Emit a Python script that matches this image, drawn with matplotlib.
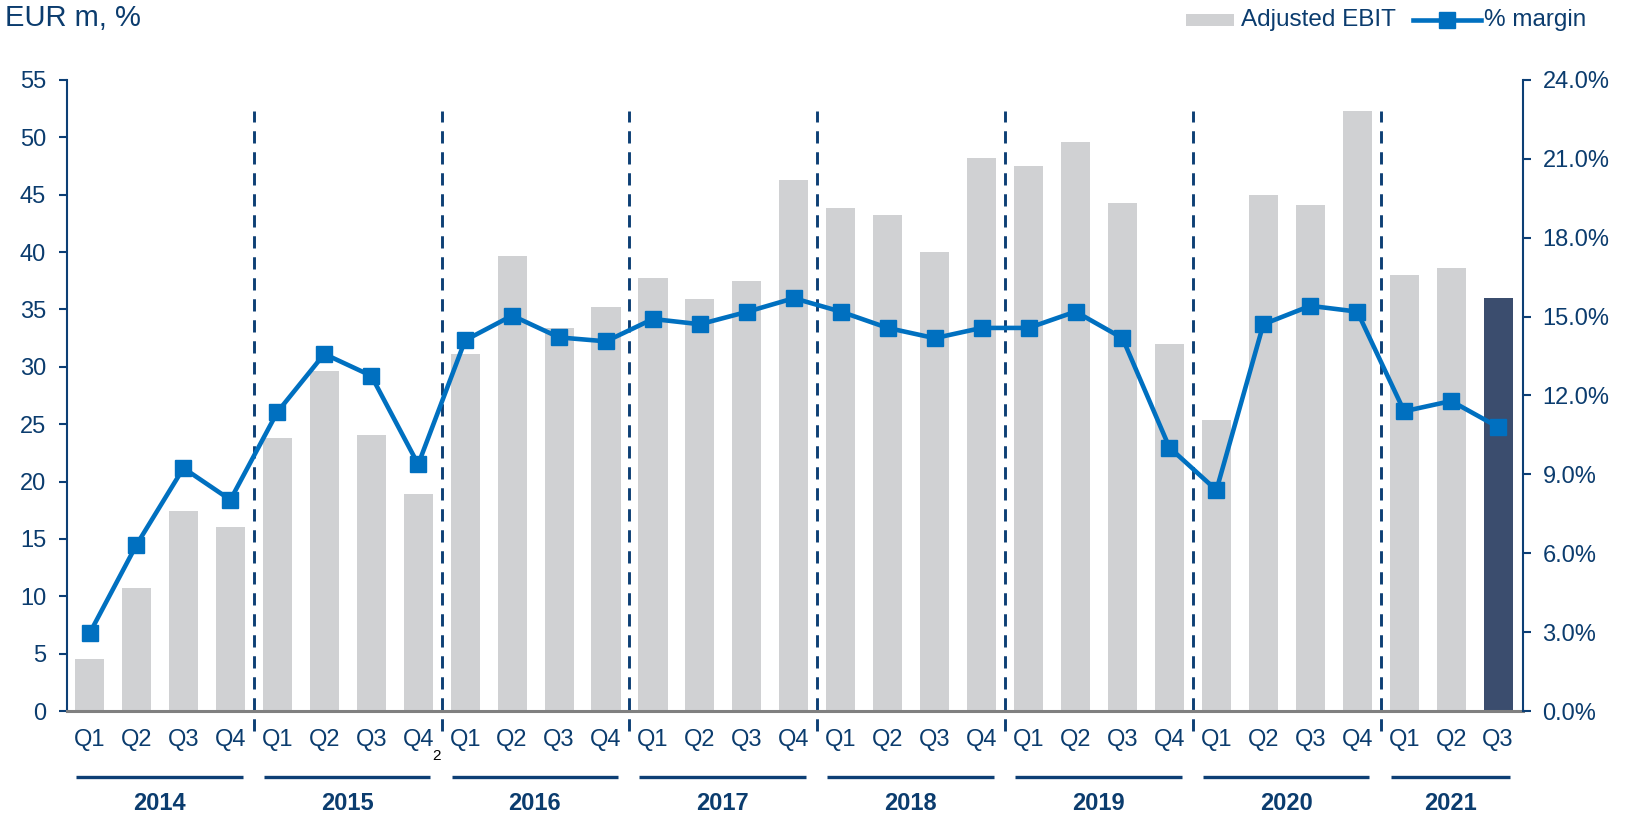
import matplotlib
matplotlib.use("Agg")
import matplotlib.pyplot as plt
import matplotlib.transforms as mtransforms
from matplotlib.patches import Rectangle
from matplotlib.lines import Line2D
from matplotlib.ticker import FuncFormatter

plt.rcParams['font.family'] = ['Liberation Sans', 'DejaVu Sans']

years = ["2014", "2015", "2016", "2017", "2018", "2019", "2020", "2021"]
quarters = ["Q1", "Q2", "Q3", "Q4"]
quarter_labels = quarters * 7 + ["Q1", "Q2", "Q3"]

adjusted_ebit = [4.5, 10.7, 17.4, 16.0,
                 23.8, 29.6, 24.1, 18.9,
                 31.1, 39.7, 33.4, 35.2,
                 37.7, 35.9, 37.5, 46.3,
                 43.8, 43.2, 40.0, 48.2,
                 47.5, 49.6, 44.3, 32.0,
                 25.4, 45.0, 44.1, 52.3,
                 38.0, 38.6, 36.0]

margin_pct = [2.95, 6.32, 9.24, 8.03,
              11.37, 13.58, 12.75, 9.38,
              14.10, 15.04, 14.21, 14.06,
              14.91, 14.71, 15.18, 15.70,
              15.19, 14.57, 14.18, 14.57,
              14.57, 15.19, 14.18, 10.02,
              8.40, 14.71, 15.41, 15.19,
              11.40, 11.79, 10.80]

TEXT = "#0b3c6e"
SPINE = "#0d3f75"
GRAY = "#d0d1d3"
DARK = "#3b4d6e"
LINE = "#0070c0"
FS = 17

W, H = 1635, 813
fig = plt.figure(figsize=(W / 100, H / 100), dpi=100)
ax = fig.add_axes([67 / W, 1 - 711 / H, (1523 - 67) / W, (711 - 80) / H])

n = len(adjusted_ebit)
x = list(range(n))
colors = [GRAY] * (n - 1) + [DARK]
ax.bar(x, adjusted_ebit, width=0.62, color=colors, zorder=2)

ax.set_xlim(-0.48, n - 1 + 0.53)
ax.set_ylim(0, 55)
ax.set_yticks(range(0, 56, 5))
ax.set_xticks(x)
ax.set_xticklabels(quarter_labels)
ax.tick_params(axis='x', length=0, pad=13, labelsize=FS, labelcolor=TEXT)
ax.tick_params(axis='y', length=6, width=1.5, color=SPINE, direction='out',
               labelsize=FS, labelcolor=TEXT, pad=9)

for s in ['top', 'right']:
    ax.spines[s].set_visible(False)
ax.spines['left'].set_color(SPINE)
ax.spines['left'].set_linewidth(1.5)
ax.spines['bottom'].set_color("#808080")
ax.spines['bottom'].set_linewidth(2.2)
ax.spines['bottom'].set_zorder(4)

ax2 = ax.twinx()
ax2.set_ylim(0, 24)
ax2.set_yticks([i * 3 for i in range(9)])
ax2.yaxis.set_major_formatter(FuncFormatter(lambda v, p: f"{v:.1f}%"))
ax2.tick_params(axis='y', length=6, width=1.5, color=SPINE, direction='out',
                labelsize=FS, labelcolor=TEXT, pad=8)
for s in ['top', 'left', 'bottom']:
    ax2.spines[s].set_visible(False)
ax2.spines['right'].set_color(SPINE)
ax2.spines['right'].set_linewidth(1.5)

ax2.plot(x, margin_pct, color=LINE, lw=3.3, marker='s', markersize=11,
         markerfacecolor=LINE, markeredgecolor=LINE, zorder=5)

# year separators
for k in range(1, len(years)):
    xv = 4 * k - 0.5
    ax.plot([xv, xv], [-1.7, 52.3], color=SPINE, lw=2.1, dashes=(4.2, 3.0),
            clip_on=False, zorder=3)

# year labels with underlines
trans = mtransforms.blended_transform_factory(ax.transData, ax.transAxes)
for k, yr in enumerate(years):
    start = 4 * k
    end = min(4 * k + 3, n - 1)
    x0, x1 = start - 0.29, end + 0.26
    ax.plot([x0, x1], [-0.105, -0.105], color=SPINE, lw=2.4, transform=trans,
            clip_on=False, solid_capstyle='butt')
    ax.text((x0 + x1) / 2, -0.147, yr, transform=trans, ha='center', va='center',
            fontsize=FS, fontweight='bold', color=TEXT)

# footnote superscript
ax.text(7.40, -0.071, "2", transform=trans, ha='center', va='center',
        fontsize=11, color='black')

fig.text(5 / W, 1 - 18 / H, "EUR m, %", ha='left', va='center',
         fontsize=21, color=TEXT)

# legend (drawn manually in figure pixel coordinates)
def fx(px):
    return px / W

def fy(py):
    return 1 - py / H

fig.patches.append(Rectangle((fx(1186), fy(26)), (1234 - 1186) / W, 12 / H,
                             transform=fig.transFigure, facecolor=GRAY,
                             edgecolor='none'))
fig.text(fx(1241), fy(20), "Adjusted EBIT", ha='left', va='center',
         fontsize=17.5, color=TEXT)
fig.lines.append(Line2D([fx(1413), fx(1481)], [fy(20), fy(20)],
                        transform=fig.transFigure, color=LINE, lw=3.3))
fig.lines.append(Line2D([fx(1447)], [fy(20)], transform=fig.transFigure,
                        color=LINE, marker='s', markersize=11, lw=0))
fig.text(fx(1484), fy(20), "% margin", ha='left', va='center',
         fontsize=17.5, color=TEXT)

fig.savefig("out.png", dpi=100)
